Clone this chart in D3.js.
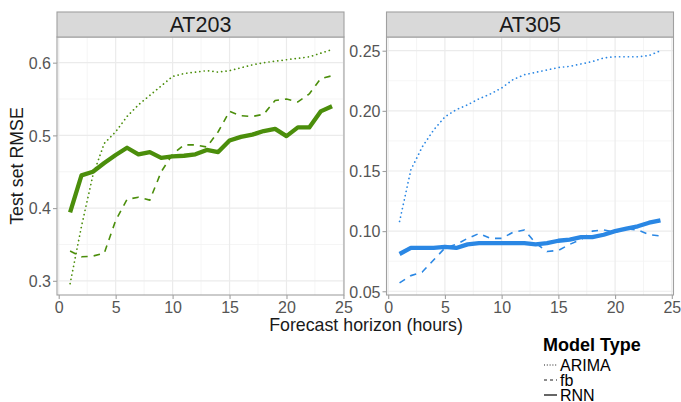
<!DOCTYPE html>
<html><head><meta charset="utf-8">
<script src="https://cdn.jsdelivr.net/npm/d3@7"></script>
<style>body{margin:0;background:#fff}svg{display:block}text{font-family:"Liberation Sans",Arial,sans-serif}</style>
</head><body><svg id="c" width="681" height="402"></svg>
<script>
const horizons = d3.range(1, 25);
const panels = ["AT203", "AT305"];
const modelTypes = ["ARIMA", "fb", "RNN"];
const at203_ARIMA = [0.296,0.375,0.445,0.489,0.505,0.526,0.542,0.555,0.568,0.581,0.585,0.587,0.589,0.587,0.589,0.593,0.597,0.600,0.602,0.604,0.606,0.608,0.613,0.618];
const at203_fb = [0.341,0.333,0.334,0.338,0.383,0.412,0.415,0.411,0.450,0.474,0.487,0.487,0.484,0.505,0.533,0.527,0.526,0.529,0.548,0.550,0.546,0.557,0.578,0.582];
const at203_RNN = [0.394,0.445,0.450,0.462,0.473,0.483,0.474,0.477,0.469,0.471,0.472,0.474,0.480,0.477,0.493,0.498,0.501,0.506,0.509,0.499,0.511,0.511,0.533,0.540];
const at305_ARIMA = [0.108,0.151,0.170,0.184,0.195,0.201,0.205,0.210,0.214,0.219,0.226,0.230,0.232,0.234,0.236,0.237,0.239,0.241,0.244,0.245,0.245,0.245,0.246,0.250];
const at305_fb = [0.057,0.063,0.066,0.076,0.086,0.089,0.094,0.098,0.094,0.094,0.099,0.101,0.090,0.083,0.084,0.089,0.093,0.100,0.101,0.099,0.102,0.101,0.097,0.096];
const at305_RNN = [0.081,0.086,0.086,0.086,0.087,0.086,0.089,0.090,0.090,0.090,0.090,0.090,0.089,0.090,0.092,0.093,0.095,0.095,0.097,0.100,0.102,0.104,0.107,0.109];
const xTicks = [0, 5, 10, 15, 20, 25];
const yTicks203 = [0.3, 0.4, 0.5, 0.6];
const yTicks305 = [0.05, 0.10, 0.15, 0.20, 0.25];
const panelColors = {AT203: "#4b8e0b", AT305: "#2a87e4"};

const svg = d3.select("#c");
const pTop = 37, pBottom = 295;
const layout = [
  {name: "AT203", x0: 57, x1: 344, xd: [-0.15, 25.05], yd: [0.2805, 0.6353], yt: yTicks203, fmt: d3.format(".1f"),
   series: {ARIMA: at203_ARIMA, fb: at203_fb, RNN: at203_RNN}},
  {name: "AT305", x0: 386.5, x1: 673.5, xd: [-0.15, 25.15], yd: [0.0469, 0.2614], yt: yTicks305, fmt: d3.format(".2f"),
   series: {ARIMA: at305_ARIMA, fb: at305_fb, RNN: at305_RNN}}
];
const styles = {
  ARIMA: {w: 1.7, dash: "0.1,4.3", cap: "round"},
  fb: {w: 1.6, dash: "6.5,6", cap: "butt"},
  RNN: {w: 4.3, dash: null, cap: "butt"}
};

layout.forEach(p => {
  const x = d3.scaleLinear().domain(p.xd).range([p.x0, p.x1]);
  const y = d3.scaleLinear().domain(p.yd).range([pBottom, pTop]);
  const g = svg.append("g");
  const xMinor = [2.5, 7.5, 12.5, 17.5, 22.5];
  const step = p.yt[1] - p.yt[0];
  const yMinor = p.yt.map(v => v + step / 2).concat([p.yt[0] - step / 2]).filter(v => v > p.yd[0] && v < p.yd[1]);
  g.selectAll(".xmin").data(xMinor).join("line").attr("x1", d => x(d)).attr("x2", d => x(d)).attr("y1", pTop).attr("y2", pBottom).attr("stroke", "#f2f2f2").attr("stroke-width", 0.8);
  g.selectAll(".ymin").data(yMinor).join("line").attr("y1", d => y(d)).attr("y2", d => y(d)).attr("x1", p.x0).attr("x2", p.x1).attr("stroke", "#f2f2f2").attr("stroke-width", 0.8);
  g.selectAll(".xmaj").data(xTicks.filter(t => t > p.xd[0] && t < p.xd[1])).join("line").attr("x1", d => x(d)).attr("x2", d => x(d)).attr("y1", pTop).attr("y2", pBottom).attr("stroke", "#ebebeb").attr("stroke-width", 1.2);
  g.selectAll(".ymaj").data(p.yt).join("line").attr("y1", d => y(d)).attr("y2", d => y(d)).attr("x1", p.x0).attr("x2", p.x1).attr("stroke", "#ebebeb").attr("stroke-width", 1.2);
  const line = d3.line().x((d, i) => x(horizons[i])).y(d => y(d));
  modelTypes.forEach(m => {
    const s = styles[m];
    g.append("path").datum(p.series[m]).attr("d", line).attr("fill", "none")
      .attr("stroke", panelColors[p.name]).attr("stroke-width", s.w)
      .attr("stroke-dasharray", s.dash).attr("stroke-linecap", s.cap).attr("stroke-linejoin", "round");
  });
  g.append("rect").attr("x", p.x0).attr("y", pTop).attr("width", p.x1 - p.x0).attr("height", pBottom - pTop).attr("fill", "none").attr("stroke", "#a0a0a0").attr("stroke-width", 1.1);
  g.append("rect").attr("x", p.x0).attr("y", 12).attr("width", p.x1 - p.x0).attr("height", 25).attr("fill", "#d9d9d9").attr("stroke", "#a0a0a0").attr("stroke-width", 1.1);
  g.append("text").attr("x", (p.x0 + p.x1) / 2).attr("y", 32).attr("text-anchor", "middle").attr("font-size", 21.5).attr("fill", "#1a1a1a").text(p.name);
  const ax = g.append("g").attr("transform", `translate(0,${pBottom})`).call(d3.axisBottom(x).tickValues(xTicks).tickSize(4).tickPadding(3));
  const ay = g.append("g").attr("transform", `translate(${p.x0},0)`).call(d3.axisLeft(y).tickValues(p.yt).tickFormat(p.fmt).tickSize(4).tickPadding(2));
  [ax, ay].forEach(a => {
    a.select(".domain").remove();
    a.selectAll("line").attr("stroke", "#a0a0a0").attr("stroke-width", 1.1);
    a.selectAll("text").attr("fill", "#555").attr("font-size", 16).attr("font-family", "Liberation Sans, Arial, sans-serif");
  });
  ay.selectAll("text").attr("dy", "0.36em");
});

svg.append("text").attr("x", 366).attr("y", 331).attr("text-anchor", "middle").attr("font-size", 17.8).attr("fill", "#1a1a1a").text("Forecast horizon (hours)");
svg.append("text").attr("transform", "translate(23,166) rotate(-90)").attr("text-anchor", "middle").attr("font-size", 17.8).attr("fill", "#1a1a1a").text("Test set RMSE");

const lg = svg.append("g");
lg.append("text").attr("x", 543).attr("y", 351).attr("font-size", 18).attr("font-weight", "bold").attr("fill", "#000").text("Model Type");
modelTypes.forEach((m, i) => {
  const yy = 365 + i * 15;
  lg.append("line").attr("x1", 544).attr("x2", 557).attr("y1", yy).attr("y2", yy).attr("stroke", "#000")
    .attr("stroke-width", m === "RNN" ? 1.2 : 0.9).attr("stroke-dasharray", m === "ARIMA" ? "1,1.8" : m === "fb" ? "3,3" : null);
  lg.append("text").attr("x", 560).attr("y", yy + 5.5).attr("font-size", 16).attr("fill", "#000").text(m);
});
</script></body></html>
